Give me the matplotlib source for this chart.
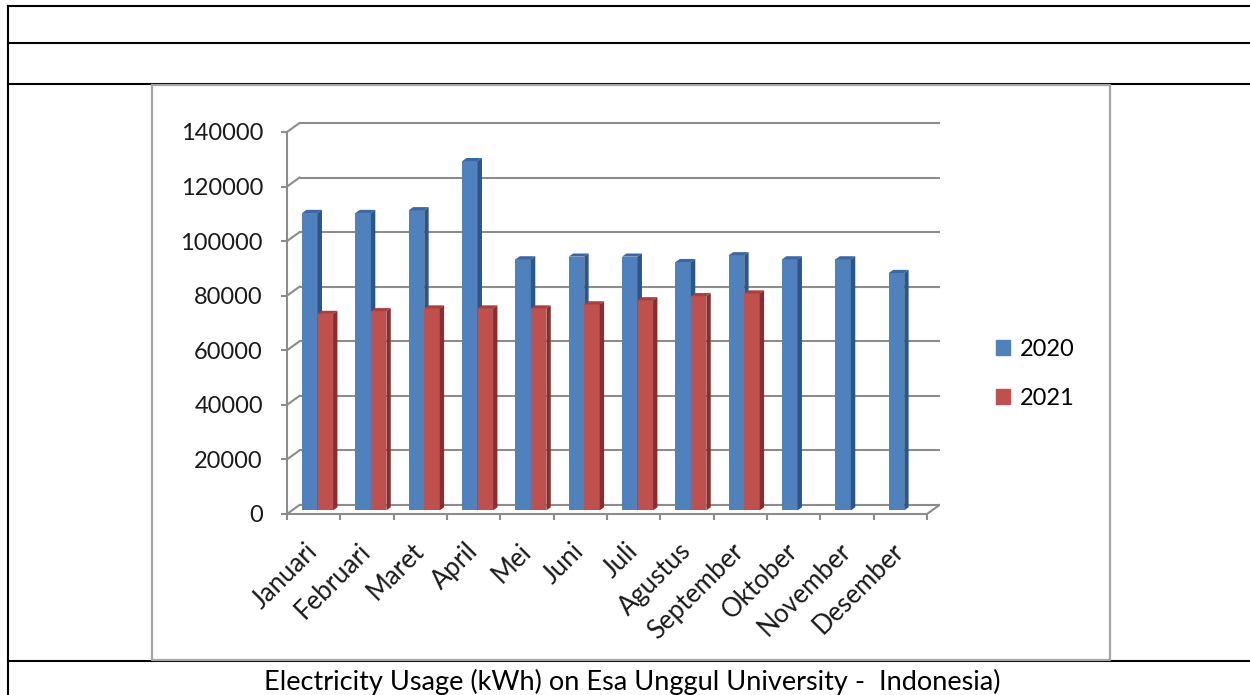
import numpy as np
import matplotlib
matplotlib.use("Agg")
import matplotlib.pyplot as plt
from matplotlib.patches import Polygon, Patch

plt.rcParams['font.family'] = ['Lato', 'DejaVu Sans']

months = ["Januari", "Februari", "Maret", "April", "Mei", "Juni", "Juli",
          "Agustus", "September", "Oktober", "November", "Desember"]
usage_2020 = [109000, 109000, 110000, 128000, 92000, 93000, 93000,
              91000, 93500, 92000, 92000, 87000]
usage_2021 = [72000, 73000, 74000, 74000, 74000, 75500, 77000, 78500, 79500]
series_names = ["2020", "2021"]
yticks = [0, 20000, 40000, 60000, 80000, 100000, 120000, 140000]
caption = "Electricity Usage (kWh) on Esa Unggul University -  Indonesia)"

W, H = 1250, 695
CAT = 53.33              # pixels per category
PX = 382 / 140000        # pixels per kWh
DX = 12.5 / CAT          # depth offset (category units)
DY = 9 / PX              # depth offset (kWh units)
D0, D1 = 0.40, 0.75      # bar depth range

GRID = "#8c8c8c"
BLUE = ("#4f81bd", "#3b68a3", "#2f5485")
RED = ("#c0504d", "#a8403d", "#85302e")

fig = plt.figure(figsize=(W / 100, H / 100), dpi=100)

# table lines and chart frame, drawn in pixel space
bg = fig.add_axes([0, 0, 1, 1])
bg.set_xlim(0, W)
bg.set_ylim(H, 0)
bg.axis("off")
for y in (6, 43, 84, 661):
    bg.plot([8, W], [y, y], color="black", lw=1.5)
bg.plot([8, 8], [6, H], color="black", lw=1.5)
bg.plot([152, 1110, 1110, 152, 152], [85, 85, 660, 660, 85],
        color="#a6a6a6", lw=1.6)

ax = fig.add_axes([287 / W, 1 - 514 / H, 653 / W, 394 / H])
ax.set_facecolor("none")
ax.set_xlim(0, 653 / CAT)
ax.set_ylim(0, 394 / PX)

# back wall gridlines with their diagonal connectors
for v in yticks:
    ax.plot([DX, 12 + DX], [v + DY, v + DY], color=GRID, lw=1.5, zorder=1)
    ax.plot([0, DX], [v, v + DY], color=GRID, lw=1.5, zorder=1)
ax.plot([12, 12 + DX], [0, DY], color=GRID, lw=1.5, zorder=1)


def bar3d(x0, width, value, colors):
    front, top, side = colors
    b = ax.bar(x0 + D0 * DX, value, width=width, bottom=D0 * DY, align="edge",
               color=front, edgecolor="none", zorder=3)[0]
    xl, xr = b.get_x(), b.get_x() + b.get_width()
    yb, yt = b.get_y(), b.get_y() + b.get_height()
    dx, dy = (D1 - D0) * DX, (D1 - D0) * DY
    ax.add_patch(Polygon([(xl, yt), (xr, yt), (xr + dx, yt + dy), (xl + dx, yt + dy)],
                         color=top, lw=0, zorder=3))
    ax.add_patch(Polygon([(xr, yb), (xr, yt), (xr + dx, yt + dy), (xr + dx, yb + dy)],
                         color=side, lw=0, zorder=3))


bw = 0.29
for i in range(len(months)):
    bar3d(i + 0.19, bw, usage_2020[i], BLUE)
    if i < len(usage_2021):
        bar3d(i + 0.19 + bw, bw, usage_2021[i], RED)

# axes
for s in ("top", "right"):
    ax.spines[s].set_visible(False)
for s in ("left", "bottom"):
    ax.spines[s].set_color(GRID)
    ax.spines[s].set_linewidth(1.5)
ax.spines["left"].set_bounds(0, 140000)
ax.spines["bottom"].set_bounds(0, 12)

ax.set_yticks(yticks)
ax.set_yticklabels([str(v) for v in yticks])
ax.tick_params(axis="y", length=4.3, width=1.5, color=GRID, pad=13,
               labelsize=17, labelcolor="#1a1a1a")

ax.set_xticks(np.arange(len(months)) + 0.5)
ax.set_xticklabels(months, rotation=45, ha="right", va="center",
                   rotation_mode="anchor")
ax.set_xticks(np.arange(13), minor=True)
ax.tick_params(axis="x", which="major", length=0, pad=24, labelsize=18.5,
               labelcolor="#1a1a1a")
ax.tick_params(axis="x", which="minor", length=4.3, width=1.5, color=GRID)

handles = [Patch(color=BLUE[0]), Patch(color=RED[0])]
fig.legend(handles, series_names, loc="center left",
           bbox_to_anchor=(996 / W, 1 - 374 / H), frameon=False,
           borderpad=0, borderaxespad=0, handlelength=0.6, handleheight=0.6,
           handletextpad=0.4, labelspacing=1.2, fontsize=17)

fig.text(632 / W, 1 - 682 / H, caption, ha="center", va="center",
         fontsize=19.5, color="black")

fig.savefig("out.png", dpi=100)
